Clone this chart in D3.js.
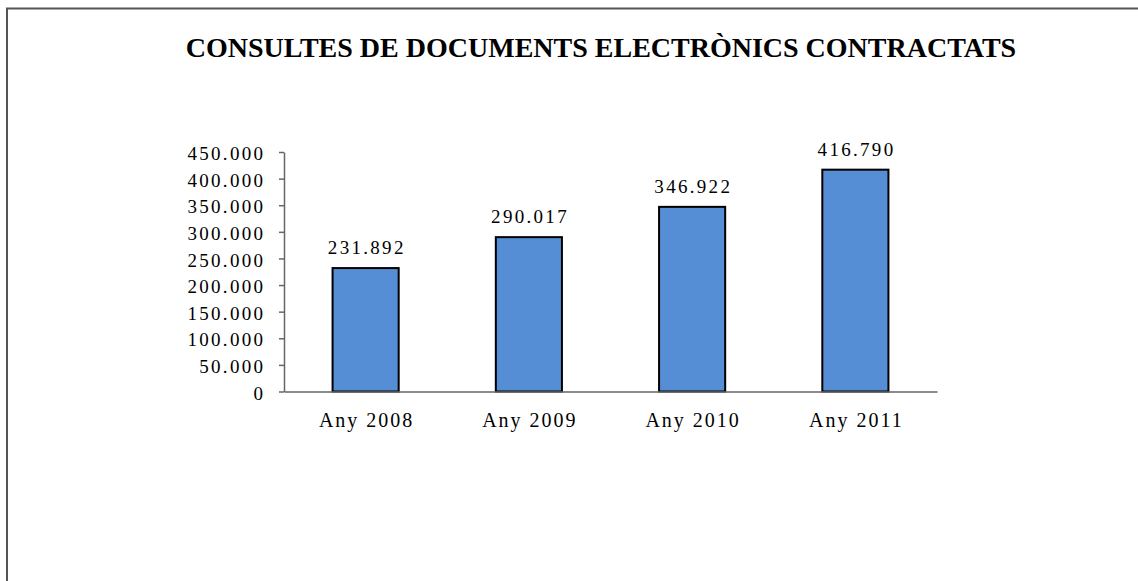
<!DOCTYPE html>
<html><head><meta charset="utf-8">
<script src="https://cdn.jsdelivr.net/npm/d3@7"></script>
<style>
html,body{margin:0;padding:0;background:#fff;}
svg{display:block;}
text{font-family:"Liberation Serif","Times New Roman",serif;fill:#000;}
</style></head>
<body>
<svg id="chart" width="1138" height="581"></svg>
<script>
const categories = ["Any 2008", "Any 2009", "Any 2010", "Any 2011"];
const values = [231892, 290017, 346922, 416790];
const tickValues = [0, 50000, 100000, 150000, 200000, 250000, 300000, 350000, 400000, 450000];
const title = "CONSULTES DE DOCUMENTS ELECTRÒNICS CONTRACTATS";

const svg = d3.select("#chart");
const fmt = v => v === 0 ? "0" : d3.format(",")(v).replace(/,/g, ".");
const numSpacing = 2.3, catSpacing = 2.0;

// outer frame
svg.append("rect").attr("x", 7).attr("y", 8.5).attr("width", 1200).attr("height", 700)
  .attr("fill", "none").attr("stroke", "#555").attr("stroke-width", 2);

svg.append("text").attr("x", 601).attr("y", 57).attr("text-anchor", "middle")
  .attr("font-size", 28).attr("font-weight", "bold").text(title);

const x0 = 284, x1 = 937, yTop = 152, yBot = 391.5;
const x = d3.scaleBand().domain(categories).range([x0, x1]).paddingInner(0.595).paddingOuter(0.2975);
const y = d3.scaleLinear().domain([0, 450000]).range([yBot, yTop]);

const yAxis = d3.axisLeft(y).tickValues(tickValues).tickFormat(fmt).tickSize(5).tickSizeOuter(0);
const gy = svg.append("g").attr("transform", `translate(${x0},0)`).call(yAxis);
gy.select(".domain").attr("stroke", "#666").attr("stroke-width", 1.5);
gy.selectAll(".tick line").attr("stroke", "#666").attr("stroke-width", 1.5);
gy.selectAll(".tick text").attr("font-size", 19).attr("x", -21 + numSpacing).attr("dy", "0.4em")
  .style("letter-spacing", numSpacing + "px")
  .style("font-family", "Liberation Serif");

svg.selectAll(".bar").data(values).join("rect").attr("class", "bar")
  .attr("x", (d, i) => x(categories[i]))
  .attr("y", d => y(d))
  .attr("width", x.bandwidth())
  .attr("height", d => yBot - y(d))
  .attr("fill", "#558ed5").attr("stroke", "#000").attr("stroke-width", 2);

const xAxis = d3.axisBottom(x).tickSize(0).tickSizeOuter(0);
const gx = svg.append("g").attr("transform", `translate(0,${yBot})`).call(xAxis);
gx.select(".domain").attr("stroke", "#666").attr("stroke-width", 1.5);
gx.selectAll(".tick text").attr("font-size", 20).attr("dy", "0").attr("y", 35)
  .attr("dx", catSpacing / 2)
  .style("letter-spacing", catSpacing + "px")
  .style("font-family", "Liberation Serif");

svg.selectAll(".lbl").data(values).join("text").attr("class", "lbl")
  .attr("x", (d, i) => x(categories[i]) + x.bandwidth() / 2 + numSpacing / 2)
  .attr("y", d => y(d) - 14)
  .attr("text-anchor", "middle").attr("font-size", 19)
  .style("letter-spacing", numSpacing + "px")
  .text(fmt);
</script>
</body></html>
